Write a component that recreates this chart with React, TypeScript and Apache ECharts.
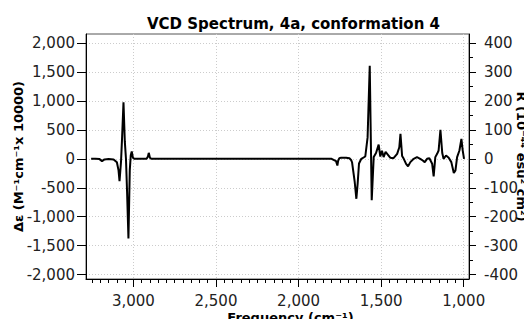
import React, { useEffect, useRef } from "react";
import * as echarts from "echarts";

const frequencies = [
  3256, 3230, 3205, 3190, 3175, 3150, 3120, 3100, 3090, 3084, 3075, 3068, 3060, 3052, 3045, 3038, 3030, 3022, 3016, 3010,
  3003, 2995, 2960, 2920, 2912, 2907, 2900, 2892, 2850, 2500, 2000, 1800, 1773, 1765, 1760, 1753, 1742, 1712, 1692, 1682,
  1676, 1660, 1650, 1642, 1634, 1620, 1596, 1582, 1569, 1557, 1545, 1531, 1515, 1505, 1495, 1485, 1473, 1455, 1445, 1425,
  1403, 1390, 1383, 1373, 1363, 1349, 1337, 1323, 1303, 1283, 1263, 1248, 1236, 1222, 1208, 1191, 1182, 1172, 1161, 1152,
  1141, 1130, 1122, 1107, 1091, 1075, 1060, 1050, 1040, 1026, 1014, 1006, 998,
];
const deltaEpsilon = [
  0, 0, -5, -40, -10, -5, -10, -60, -200, -384, -50, 400, 975, 300, 0, -600, -1376, -200, 60, 126,
  20, 0, 0, 0, 40, 103, 20, 0, 0, 0, 0, 0, -40, -115, -30, 10, 20, 20, 10, -20,
  -60, -400, -690, -420, -80, 0, 40, 370, 1605, -715, 30, 100, 245, 40, 140, 30, 120, 57, 20, 10,
  86, 200, 430, 50, 0, -86, -130, -57, 0, 29, 0, -29, -57, 0, 10, -86, -304, 29, 86, 143,
  500, 100, 0, 57, 20, -57, -246, -200, 29, 143, 344, 143, 0,
];

const xMajorTicks = [1000, 1500, 2000, 2500, 3000];
const xMinorTicks = [
  1050, 1100, 1150, 1200, 1250, 1300, 1350, 1400, 1450, 1550, 1600, 1650, 1700, 1750, 1800, 1850, 1900, 1950,
  2050, 2100, 2150, 2200, 2250, 2300, 2350, 2400, 2450, 2550, 2600, 2650, 2700, 2750, 2800, 2850, 2900, 2950,
  3050, 3100, 3150, 3200, 3250,
];
const leftTicks = [-2000, -1500, -1000, -500, 0, 500, 1000, 1500, 2000];
const rightTicks = [-400, -300, -200, -100, 0, 100, 200, 300, 400];
const rightMinorTicks = [-350, -250, -150, -50, 50, 150, 250, 350];

const FONT = "DejaVu Sans";
const fmt = (v: number) => v.toLocaleString("en-US");

export default function App() {
  const ref = useRef<HTMLDivElement>(null);
  useEffect(() => {
    if (!ref.current) return;
    const chart = echarts.init(ref.current, undefined, { renderer: "svg" });
    const xMin = 968;
    const xMax = 3287;
    const yMin = -2075;
    const yMax = 2155;
    const data = frequencies.map((f, i) => [f, deltaEpsilon[i]]);
    chart.setOption({
      animation: false,
      backgroundColor: "#fff",
      title: {
        text: "VCD Spectrum, 4a, conformation 4",
        left: 142,
        top: 11,
        textStyle: { fontFamily: FONT, fontSize: 15, fontWeight: "bold", color: "#000" },
      },
      grid: {
        left: 86,
        right: 63,
        top: 34,
        bottom: 48,
        containLabel: false,
        outerBoundsMode: "none",
        show: true,
        borderColor: "#555",
        borderWidth: 1,
      },
      xAxis: [
        {
          type: "value",
          inverse: true,
          min: xMin,
          max: xMax,
          position: "bottom",
          name: "Frequency (cm⁻¹)",
          nameLocation: "middle",
          nameGap: 31,
          nameMoveOverlap: false,
          nameTextStyle: {
            fontFamily: FONT,
            fontSize: 13,
            fontWeight: "bold",
            color: "#000",
            lineHeight: 14,
            padding: [0, 0, 0, 26],
          },
          axisLine: { show: true, onZero: false, lineStyle: { color: "#000", width: 1 } },
          axisTick: { show: true, length: 8, customValues: xMajorTicks, lineStyle: { color: "#000" } },
          axisLabel: {
            customValues: xMajorTicks,
            margin: 15,
            lineHeight: 14,
            formatter: fmt,
            fontFamily: FONT,
            fontSize: 15,
            color: "#222",
          },
          splitLine: { show: true, lineStyle: { color: "#ccc", type: [1, 2], width: 1 } },
        },
        {
          type: "value",
          inverse: true,
          min: xMin,
          max: xMax,
          position: "bottom",
          axisLine: { show: false, onZero: false },
          axisTick: { show: true, length: 4, customValues: xMinorTicks, lineStyle: { color: "#000" } },
          axisLabel: { show: false },
          splitLine: { show: false },
        },
      ],
      yAxis: [
        {
          type: "value",
          min: yMin,
          max: yMax,
          position: "left",
          name: "Δε (M⁻¹cm⁻¹x 10000)",
          nameLocation: "middle",
          nameGap: 61,
          nameMoveOverlap: false,
          nameTextStyle: { fontFamily: FONT, fontSize: 13, fontWeight: "bold", color: "#000" },
          axisLine: { show: true, onZero: false, lineStyle: { color: "#000", width: 1 } },
          axisTick: { show: true, length: 9, customValues: leftTicks, lineStyle: { color: "#000" } },
          axisLabel: {
            customValues: leftTicks,
            margin: 11,
            formatter: fmt,
            fontFamily: FONT,
            fontSize: 15,
            color: "#222",
          },
          splitLine: { show: true, lineStyle: { color: "#ccc", type: [1, 2], width: 1 } },
        },
        {
          type: "value",
          min: yMin / 5,
          max: yMax / 5,
          position: "right",
          name: "R (10⁻⁴⁴ esu² cm²)",
          nameLocation: "middle",
          nameRotate: -90,
          nameGap: 46,
          nameMoveOverlap: false,
          nameTextStyle: { fontFamily: FONT, fontSize: 13, fontWeight: "bold", color: "#000" },
          axisLine: { show: true, onZero: false, lineStyle: { color: "#000", width: 1 } },
          axisTick: { show: true, length: 7, customValues: rightTicks, lineStyle: { color: "#000" } },
          axisLabel: {
            customValues: rightTicks,
            margin: 15,
            formatter: fmt,
            fontFamily: FONT,
            fontSize: 15,
            color: "#222",
          },
          splitLine: { show: false },
        },
        {
          type: "value",
          min: yMin / 5,
          max: yMax / 5,
          position: "right",
          axisLine: { show: false, onZero: false },
          axisTick: { show: true, length: 4, customValues: rightMinorTicks, lineStyle: { color: "#000" } },
          axisLabel: { show: false },
          splitLine: { show: false },
        },
      ],
      series: [
        {
          type: "line",
          xAxisIndex: 0,
          yAxisIndex: 0,
          data,
          showSymbol: false,
          symbol: "none",
          lineStyle: { color: "#000", width: 2 },
          clip: true,
        },
      ],
    });
    return () => chart.dispose();
  }, []);
  return <div ref={ref} style={{ width: 532, height: 327, margin: -8 }} />;
}
